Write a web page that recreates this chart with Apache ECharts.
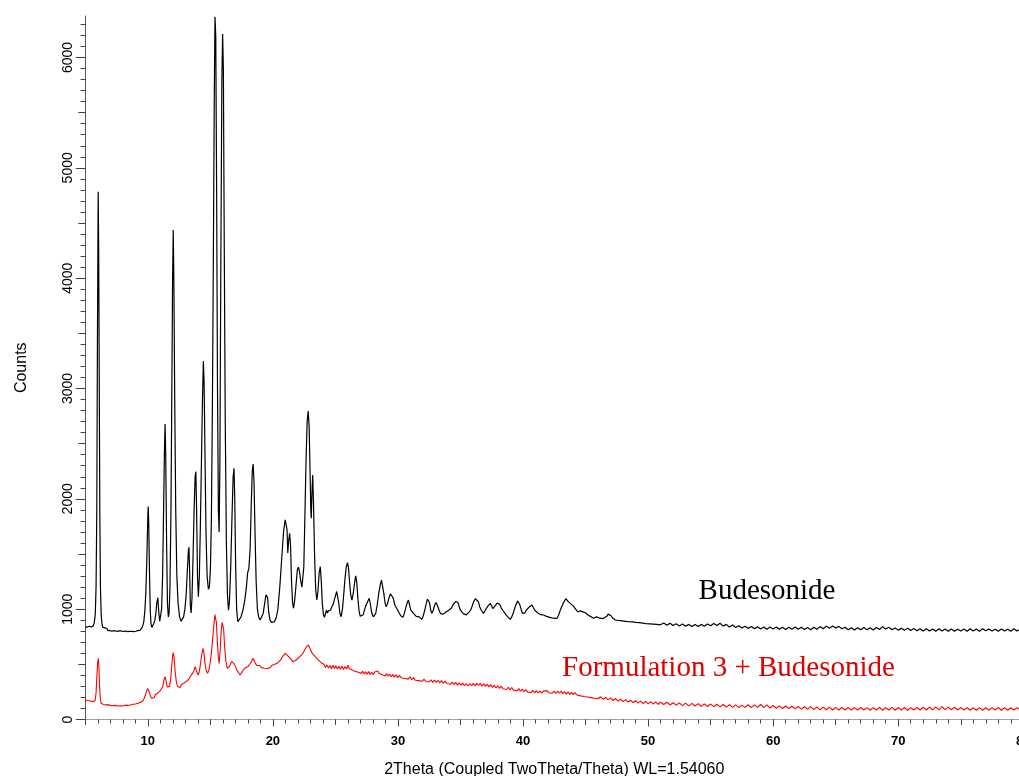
<!DOCTYPE html>
<html>
<head>
<meta charset="utf-8">
<script src="https://cdn.jsdelivr.net/npm/echarts@6/dist/echarts.min.js"></script>
<style>
html,body{margin:0;padding:0;background:#fff;}
#chart{width:1019px;height:776px;}
</style>
</head>
<body>
<div id="chart"></div>
<script>
// ---------------- data: [2Theta, Counts] ----------------
var budesonidePoints = [
[5.00,835],[5.08,826],[5.16,840],[5.24,830],[5.32,845],[5.40,828],[5.48,838],[5.56,832],[5.64,850],[5.72,880],[5.80,960],[5.86,1200],[5.92,1900],[5.97,3440],[6.03,4784],[6.07,4250],[6.11,3200],[6.16,1900],[6.21,1200],[6.27,950],[6.33,870],[6.40,835],[6.48,818],[6.56,830],[6.64,812],[6.72,825],[6.80,806],[6.88,820],[6.96,808],[7.04,818],
[7.12,800],[7.20,815],[7.28,805],[7.36,822],[7.44,802],[7.52,812],[7.60,798],[7.68,815],[7.76,805],[7.84,818],[7.92,800],[8.00,812],[8.08,798],[8.16,810],[8.24,802],[8.32,815],[8.40,796],[8.48,810],[8.56,800],[8.64,812],[8.72,798],[8.80,808],[8.88,796],[8.96,812],[9.04,800],[9.12,815],[9.20,805],[9.28,818],[9.36,808],[9.44,822],
[9.52,830],[9.60,850],[9.68,890],[9.76,980],[9.84,1150],[9.92,1450],[10.00,1850],[10.03,1930],[10.07,1780],[10.13,1350],[10.19,1000],[10.25,870],[10.32,835],[10.40,850],[10.48,870],[10.56,900],[10.64,960],[10.72,1060],[10.80,1104],[10.87,980],[10.95,890],[11.02,900],[11.10,1000],[11.18,1300],[11.26,1900],[11.33,2450],[11.38,2678],[11.43,2400],[11.50,1600],[11.57,1050],
[11.64,930],[11.70,960],[11.77,1200],[11.85,1900],[11.92,3000],[11.98,4000],[12.03,4437],[12.08,4000],[12.15,2900],[12.23,1900],[12.32,1300],[12.42,1050],[12.54,930],[12.66,890],[12.76,895],[12.86,930],[12.96,1000],[13.06,1120],[13.16,1350],[13.24,1530],[13.29,1561],[13.34,1350],[13.40,1030],[13.46,965],[13.53,1100],[13.61,1450],[13.70,1900],[13.78,2200],[13.84,2246],[13.90,1900],
[13.97,1300],[14.04,1113],[14.12,1300],[14.20,1750],[14.28,2300],[14.36,2850],[14.44,3250],[14.50,3050],[14.57,2400],[14.65,1700],[14.74,1300],[14.84,1180],[14.92,1200],[15.00,1350],[15.08,1800],[15.16,2800],[15.24,4200],[15.31,5600],[15.37,6370],[15.43,6200],[15.50,4800],[15.57,3000],[15.64,1900],[15.70,1700],[15.76,2300],[15.84,4200],[15.92,5800],[15.98,6213],[16.04,5900],[16.11,4300],
[16.19,2700],[16.28,1600],[16.37,1120],[16.45,990],[16.53,1080],[16.62,1350],[16.72,1800],[16.82,2200],[16.89,2277],[16.95,2000],[17.02,1400],[17.10,1000],[17.19,886],[17.30,895],[17.45,930],[17.60,990],[17.75,1080],[17.88,1200],[17.98,1330],[18.08,1370],[18.18,1550],[18.27,1950],[18.35,2250],[18.42,2316],[18.49,2150],[18.57,1700],[18.66,1250],[18.76,1000],[18.86,930],[18.98,902],
[19.10,915],[19.22,960],[19.34,1050],[19.44,1130],[19.50,1144],[19.57,1110],[19.66,980],[19.76,905],[19.88,880],[20.00,877],[20.12,885],[20.26,920],[20.40,1000],[20.55,1200],[20.70,1450],[20.85,1700],[20.98,1810],[21.06,1824],[21.13,1720],[21.19,1509],[21.26,1620],[21.34,1688],[21.41,1580],[21.49,1250],[21.57,1060],[21.65,1008],[21.74,1080],[21.85,1220],[21.96,1360],[22.04,1380],
[22.13,1340],[22.22,1260],[22.32,1200],[22.39,1189],[22.47,1380],[22.56,1850],[22.65,2350],[22.74,2700],[22.82,2796],[22.90,2650],[22.97,2250],[23.03,1900],[23.07,1824],[23.12,2050],[23.18,2216],[23.25,1950],[23.33,1500],[23.42,1180],[23.51,1083],[23.60,1160],[23.70,1330],[23.79,1385],[23.87,1250],[23.95,1050],[24.04,950],[24.12,926],[24.20,960],[24.28,990],[24.36,965],[24.44,985],
[24.52,1000],[24.60,990],[24.70,1020],[24.80,1040],[24.90,1080],[25.00,1120],[25.10,1160],[25.18,1165],[25.26,1060],[25.36,960],[25.46,932],[25.56,1000],[25.66,1130],[25.76,1270],[25.86,1380],[25.96,1421],[26.04,1380],[26.12,1260],[26.22,1130],[26.32,1083],[26.42,1140],[26.52,1230],[26.62,1301],[26.70,1250],[26.78,1120],[26.88,990],[26.98,935],[27.11,917],[27.22,950],[27.34,1000],
[27.46,1040],[27.58,1070],[27.70,1099],[27.80,1040],[27.90,970],[28.02,930],[28.12,917],[28.22,960],[28.34,1040],[28.46,1140],[28.58,1220],[28.68,1264],[28.76,1250],[28.86,1150],[28.96,1060],[29.06,1022],[29.16,1050],[29.28,1100],[29.40,1140],[29.52,1153],[29.62,1100],[29.74,1040],[29.86,1022],[29.98,990],[30.10,965],[30.22,940],[30.32,935],[30.40,926],[30.50,960],[30.62,1010],
[30.74,1060],[30.84,1083],[30.94,1030],[31.04,990],[31.14,975],[31.24,962],[31.34,945],[31.46,935],[31.58,925],[31.70,930],[31.80,915],[31.91,908],[32.02,940],[32.14,990],[32.26,1050],[32.36,1090],[32.44,1108],[32.52,1060],[32.62,990],[32.71,962],[32.82,990],[32.94,1040],[33.04,1060],[33.11,1068],[33.20,1020],[33.30,985],[33.40,960],[33.51,947],[33.62,955],[33.72,970],
[33.84,975],[33.96,993],[34.06,990],[34.18,1000],[34.28,1010],[34.40,1040],[34.52,1055],[34.62,1070],[34.71,1083],[34.80,1060],[34.90,1020],[34.98,993],[35.10,975],[35.22,960],[35.34,955],[35.46,948],[35.58,960],[35.70,975],[35.82,995],[35.94,1030],[36.06,1070],[36.18,1095],[36.31,1113],[36.42,1070],[36.54,1020],[36.66,990],[36.76,975],[36.84,962],[36.96,985],[37.08,1010],
[37.20,1030],[37.30,1045],[37.38,1053],[37.48,1030],[37.58,1005],[37.68,1010],[37.80,1035],[37.92,1055],[38.04,1068],[38.14,1045],[38.26,1010],[38.38,990],[38.50,970],[38.62,955],[38.74,935],[38.86,920],[38.98,908],[39.10,930],[39.22,965],[39.34,1010],[39.46,1050],[39.56,1075],[39.64,1083],[39.74,1040],[39.84,1000],[39.94,965],[40.04,947],[40.14,965],[40.26,990],[40.38,1005],
[40.50,1020],[40.60,1030],[40.71,1038],[40.82,1015],[40.94,990],[41.06,975],[41.18,965],[41.30,955],[41.42,950],[41.54,952],[41.64,947],[41.76,940],[41.88,935],[42.00,930],[42.14,925],[42.28,920],[42.42,918],[42.56,915],[42.71,917],[42.84,945],[42.96,985],[43.08,1020],[43.20,1050],[43.32,1075],[43.42,1095],[43.50,1099],[43.60,1070],[43.70,1055],[43.80,1050],[43.91,1038],
[44.02,1030],[44.14,1010],[44.26,995],[44.38,975],[44.44,962],[44.56,985],[44.68,990],[44.80,975],[44.92,970],[44.98,968],[45.10,955],[45.22,945],[45.34,940],[45.46,930],[45.56,925],[45.64,917],[45.76,925],[45.88,930],[46.00,925],[46.14,918],[46.28,922],[46.42,915],[46.56,920],[46.70,935],[46.80,955],[46.92,962],[47.04,940],[47.16,920],[47.28,910],[47.38,902],
[47.50,915],[47.64,898],[47.78,916],[47.92,894],[48.06,912],[48.20,890],[48.31,905],[48.46,886],[48.60,902],[48.74,884],[48.88,898],[49.02,880],[49.16,896],[49.30,878],[49.44,892],[49.58,874],[49.72,890],[49.86,868],[50.00,886],[50.14,866],[50.28,884],[50.42,864],[50.56,880],[50.70,862],[50.84,878],[50.98,858],[51.25,874],[51.50,854],[51.75,872],[52.00,852],
[52.25,868],[52.50,848],[52.75,866],[53.00,846],[53.25,862],[53.50,842],[53.75,860],[54.00,842],[54.25,862],[54.50,846],[54.75,866],[55.00,850],[55.25,870],[55.50,852],[55.75,872],[56.00,846],[56.25,862],[56.50,838],[56.75,856],[57.00,834],[57.25,850],[57.50,830],[57.75,846],[58.00,826],[58.25,842],[58.50,822],[58.75,840],[59.00,820],[59.25,838],[59.50,818],
[59.75,838],[60.00,820],[60.25,838],[60.50,818],[60.75,836],[61.00,816],[61.25,836],[61.50,818],[61.75,838],[62.00,818],[62.25,836],[62.50,816],[62.75,834],[63.00,814],[63.25,836],[63.50,818],[63.75,842],[64.00,822],[64.25,846],[64.50,826],[64.75,848],[65.00,830],[65.25,844],[65.50,822],[65.75,836],[66.00,814],[66.25,832],[66.50,812],[66.75,832],[67.00,814],
[67.25,834],[67.50,814],[67.75,832],[68.00,812],[68.25,834],[68.50,816],[68.75,842],[69.00,820],[69.25,836],[69.50,814],[69.75,830],[70.00,810],[70.25,828],[70.50,808],[70.75,826],[71.00,806],[71.25,824],[71.50,804],[71.75,822],[72.00,802],[72.25,822],[72.50,802],[72.75,820],[73.00,800],[73.25,822],[73.50,802],[73.75,820],[74.00,800],[74.25,820],[74.50,800],
[74.75,818],[75.00,802],[75.25,820],[75.50,800],[75.75,822],[76.00,802],[76.25,820],[76.50,800],[76.75,822],[77.00,804],[77.25,820],[77.50,802],[77.75,818],[78.00,800],[78.25,820],[78.50,802],[78.75,818],[79.00,800],[79.25,822],[79.50,802],[79.75,818],[80.00,806]
];
var formulationPoints = [
[5.00,177],[5.10,160],[5.20,172],[5.30,155],[5.40,168],[5.50,150],[5.60,162],[5.70,152],[5.78,170],[5.86,240],[5.93,400],[5.99,520],[6.04,555],[6.09,470],[6.14,300],[6.20,190],[6.26,147],[6.34,160],[6.42,138],[6.50,150],[6.60,132],[6.70,148],[6.80,135],[6.90,150],[7.00,128],[7.10,142],[7.20,125],[7.30,140],[7.40,128],[7.50,138],
[7.60,122],[7.70,138],[7.80,125],[7.90,135],[8.00,122],[8.10,140],[8.20,130],[8.30,145],[8.40,128],[8.50,140],[8.60,132],[8.70,150],[8.80,138],[8.90,152],[9.00,140],[9.10,158],[9.20,148],[9.30,165],[9.40,155],[9.50,170],[9.60,168],[9.70,190],[9.80,220],[9.90,258],[10.00,280],[10.05,283],[10.12,250],[10.20,215],[10.30,192],[10.40,210],
[10.50,198],[10.60,225],[10.70,215],[10.80,240],[10.90,232],[11.00,262],[11.10,267],[11.20,300],[11.30,365],[11.38,388],[11.46,350],[11.55,295],[11.64,283],[11.74,300],[11.84,380],[11.92,500],[11.98,580],[12.04,605],[12.10,560],[12.18,440],[12.28,340],[12.38,300],[12.48,310],[12.58,290],[12.68,318],[12.78,305],[12.88,330],[12.98,318],[13.08,345],[13.18,330],
[13.28,365],[13.38,388],[13.48,375],[13.58,420],[13.68,440],[13.78,479],[13.86,465],[13.94,425],[14.04,403],[14.14,450],[14.24,530],[14.34,610],[14.42,645],[14.50,590],[14.58,500],[14.68,440],[14.78,419],[14.88,450],[14.98,510],[15.08,600],[15.18,720],[15.28,860],[15.36,950],[15.42,968],[15.48,880],[15.56,700],[15.64,560],[15.70,509],[15.78,620],[15.86,790],
[15.94,880],[15.99,896],[16.06,820],[16.14,660],[16.24,530],[16.34,465],[16.42,449],[16.52,480],[16.62,505],[16.72,525],[16.84,539],[16.94,500],[17.04,470],[17.14,445],[17.26,430],[17.38,403],[17.50,425],[17.60,445],[17.70,430],[17.80,470],[17.90,455],[18.00,479],[18.10,490],[18.20,510],[18.30,530],[18.40,555],[18.48,540],[18.58,515],[18.70,490],[18.84,473],
[18.96,490],[19.08,470],[19.20,488],[19.32,465],[19.44,480],[19.56,462],[19.66,478],[19.78,470],[19.90,490],[20.02,478],[20.14,500],[20.26,488],[20.38,512],[20.50,505],[20.62,540],[20.74,565],[20.86,580],[20.98,600],[21.10,605],[21.22,575],[21.34,560],[21.46,545],[21.58,525],[21.70,515],[21.82,535],[21.94,530],[22.06,560],[22.18,575],[22.30,585],[22.42,605],
[22.54,630],[22.66,655],[22.76,670],[22.84,675],[22.92,655],[23.02,640],[23.14,600],[23.26,585],[23.38,569],[23.50,555],[23.62,540],[23.74,530],[23.86,515],[23.98,505],
[24.10,498],[24.20,472],[24.32,495],[24.44,466],[24.56,490],[24.68,460],[24.80,492],[24.92,462],[25.04,486],[25.16,458],[25.28,482],[25.40,455],[25.52,485],[25.64,452],[25.76,480],[25.88,458],[26.00,492],[26.10,462],[26.22,470],[26.34,448],[26.46,458],[26.58,436],[26.70,452],[26.82,428],[26.94,440],[27.06,418],[27.18,438],[27.30,412],[27.42,432],[27.54,410],
[27.66,435],[27.78,408],[27.90,428],[28.02,405],[28.14,430],[28.26,412],[28.38,440],[28.50,418],[28.62,430],[28.74,405],[28.86,420],[28.98,395],[29.10,416],[29.22,392],[29.34,412],[29.46,388],[29.58,408],[29.70,384],[29.84,404],[29.98,380],[30.12,400],[30.26,378],[30.40,396],[30.54,372],[30.68,390],[30.82,366],[30.96,386],[31.10,360],[31.24,380],[31.38,356],
[31.52,374],[31.66,352],[31.80,370],[31.94,346],[32.08,366],[32.22,344],[32.36,362],[32.50,340],[32.64,360],[32.78,336],[32.92,358],[33.06,336],[33.20,356],[33.34,332],[33.48,352],[33.62,328],[33.76,348],[33.91,326],[34.06,344],[34.20,320],[34.34,340],[34.48,316],[34.62,336],[34.76,312],[34.90,332],[35.04,310],[35.18,330],[35.32,306],[35.46,326],[35.60,304],
[35.74,326],[35.88,306],[36.02,328],[36.16,304],[36.30,330],[36.44,308],[36.58,328],[36.72,302],[36.86,324],[37.00,300],[37.14,320],[37.28,296],[37.42,316],[37.56,290],[37.70,310],[37.84,286],[37.98,306],[38.12,282],[38.26,302],[38.40,278],[38.54,296],[38.68,272],[38.82,292],[38.96,268],[39.10,290],[39.24,266],[39.38,284],[39.52,260],[39.66,280],[39.80,256],
[39.94,276],[40.08,252],[40.22,272],[40.36,248],[40.50,266],[40.64,244],[40.78,264],[40.92,242],[41.06,262],[41.20,240],[41.34,260],[41.48,238],[41.62,258],[41.76,240],[41.91,262],[42.06,242],[42.20,260],[42.34,238],[42.48,258],[42.62,236],[42.76,258],[42.90,238],[43.04,258],[43.18,234],[43.32,254],[43.46,230],[43.60,250],[43.74,226],[43.88,246],[44.02,224],
[44.16,244],[44.31,222],[44.46,238],[44.60,214],[44.74,232],[44.88,208],[45.02,226],[45.16,204],[45.30,220],[45.44,198],[45.58,214],[45.72,192],[45.86,210],[46.00,188],[46.20,206],[46.40,184],[46.60,200],[46.80,178],[47.00,196],[47.20,172],[47.40,190],[47.60,166],[47.80,184],[48.00,162],[48.20,180],[48.40,158],[48.60,174],[48.80,152],[49.00,170],[49.20,148],
[49.40,166],[49.60,144],[49.80,164],[50.00,142],[50.20,162],[50.40,140],[50.60,160],[50.80,138],[51.00,158],[51.25,136],[51.50,156],[51.75,132],[52.00,152],[52.25,130],[52.50,150],[52.75,126],[53.00,148],[53.25,124],[53.50,146],[53.75,122],[54.00,144],[54.25,120],[54.50,142],[54.75,118],[55.00,140],[55.25,116],[55.50,138],[55.75,114],[56.00,136],[56.25,112],
[56.50,134],[56.75,110],[57.00,132],[57.25,108],[57.50,130],[57.75,110],[58.00,134],[58.25,108],[58.50,132],[58.75,110],[59.00,136],[59.25,108],[59.50,132],[59.75,104],[60.00,128],[60.25,102],[60.50,124],[60.75,100],[61.00,122],[61.25,98],[61.50,120],[61.75,96],[62.00,118],[62.25,94],[62.50,116],[62.75,92],[63.00,116],[63.25,90],[63.50,114],[63.75,88],
[64.00,112],[64.25,88],[64.50,112],[64.75,86],[65.00,110],[65.25,86],[65.50,110],[65.75,86],[66.00,110],[66.25,86],[66.50,108],[66.75,86],[67.00,110],[67.25,86],[67.50,108],[67.75,84],[68.00,108],[68.25,86],[68.50,110],[68.75,84],[69.00,108],[69.25,86],[69.50,110],[69.75,84],[70.00,110],[70.25,86],[70.50,110],[70.75,84],[71.00,108],[71.25,86],
[71.50,110],[71.75,86],[72.00,112],[72.25,86],[72.50,112],[72.75,88],[73.00,114],[73.25,88],[73.50,116],[73.75,90],[74.00,112],[74.25,88],[74.50,112],[74.75,86],[75.00,110],[75.25,86],[75.50,108],[75.75,84],[76.00,108],[76.25,84],[76.50,108],[76.75,84],[77.00,106],[77.25,84],[77.50,108],[77.75,86],[78.00,110],[78.25,84],[78.50,108],[78.75,84],
[79.00,106],[79.25,86],[79.50,108],[79.75,86],[80.00,104]
];
var xTickLabels = [10,20,30,40,50,60,70,80];
var yTickLabels = [0,1000,2000,3000,4000,5000,6000];

// ---------------- layout ----------------
var L = 85.3, R = -4.3, B = 56.5, T = 16;
var pxPerCount = 0.110333;     // vertical scale (px per count)
var pxPerDeg = 12.5;           // horizontal scale (px per degree)
var yMax = (776 - B - T) / pxPerCount;
function topFor(v){ return 776 - B - v * pxPerCount; }
function grid(left, top){ return {left:left, right:R, top:top, bottom:B, containLabel:false, outerBoundsMode:'none'}; }

var tickColor = '#444';
var hiddenX = function(g, mn){ return {gridIndex:g, type:'value', min:mn, max:80, show:false}; };
var hiddenY = function(g, mx){ return {gridIndex:g, type:'value', min:0, max:mx, show:false}; };
var labelFont = 'Liberation Sans, Arial, sans-serif';

var option = {
  animation: false,
  backgroundColor: '#fff',
  grid: [
    grid(L, T),                    // 0 data
    grid(L, topFor(6000)),         // 1 y major + labels
    grid(L, topFor(6000)),         // 2 y medium ticks
    grid(L, topFor(6300)),         // 3 y minor ticks
    grid(L + 5*pxPerDeg, T),       // 4 x major + labels
    grid(L, T),                    // 5 x medium ticks
    grid(L, T)                     // 6 x minor ticks
  ],
  xAxis: [
    {gridIndex:0, type:'value', min:5, max:80,
      axisLine:{show:true, onZero:false, lineStyle:{color:'#a0a0a0', width:1}},
      axisTick:{show:false}, axisLabel:{show:false}, splitLine:{show:false},
      name:'2Theta (Coupled TwoTheta/Theta) WL=1.54060', nameLocation:'middle', nameGap:42,
      nameTextStyle:{fontFamily:labelFont, fontSize:16, color:'#000'}},
    hiddenX(1,5), hiddenX(2,5), hiddenX(3,5),
    {gridIndex:4, type:'value', min:10, max:80, interval:10,
      axisLine:{show:false}, splitLine:{show:false},
      axisTick:{show:true, length:7, lineStyle:{color:tickColor}},
      axisLabel:{show:true, margin:15, fontFamily:labelFont, fontSize:13, fontWeight:'bold', color:'#000',
        hideOverlap:false, showMinLabel:true, showMaxLabel:true,
        formatter:function(v){ return xTickLabels.indexOf(v) >= 0 ? String(v) : ''; }}},
    {gridIndex:5, type:'value', min:5, max:80, interval:5,
      axisLine:{show:false}, splitLine:{show:false}, axisLabel:{show:false},
      axisTick:{show:true, length:5.5, lineStyle:{color:tickColor}}},
    {gridIndex:6, type:'value', min:5, max:80, interval:1,
      axisLine:{show:false}, splitLine:{show:false}, axisLabel:{show:false},
      axisTick:{show:true, length:4, lineStyle:{color:tickColor}}}
  ],
  yAxis: [
    {gridIndex:0, type:'value', min:0, max:yMax,
      axisLine:{show:true, onZero:false, lineStyle:{color:'#555', width:1}},
      axisTick:{show:false}, axisLabel:{show:false}, splitLine:{show:false},
      name:'Counts', nameLocation:'middle', nameGap:56, nameRotate:90,
      nameTextStyle:{fontFamily:labelFont, fontSize:16, color:'#000'}},
    {gridIndex:1, type:'value', min:0, max:6000, interval:1000,
      axisLine:{show:false}, splitLine:{show:false},
      axisTick:{show:true, length:9.5, lineStyle:{color:tickColor}},
      axisLabel:{show:true, rotate:90, margin:10, fontFamily:labelFont, fontSize:14, color:'#000',
        formatter:function(v){ return yTickLabels.indexOf(v) >= 0 ? String(v) : ''; }}},
    {gridIndex:2, type:'value', min:0, max:6000, interval:500,
      axisLine:{show:false}, splitLine:{show:false}, axisLabel:{show:false},
      axisTick:{show:true, length:7, lineStyle:{color:tickColor}}},
    {gridIndex:3, type:'value', min:0, max:6300, interval:100,
      axisLine:{show:false}, splitLine:{show:false}, axisLabel:{show:false},
      axisTick:{show:true, length:4.7, lineStyle:{color:tickColor}}},
    hiddenY(4,6000), hiddenY(5,6000), hiddenY(6,6000)
  ],
  series: [
    {name:'Budesonide', type:'line', xAxisIndex:0, yAxisIndex:0, data:budesonidePoints,
      showSymbol:false, symbol:'none', smooth:false, sampling:null, lineStyle:{color:'#000', width:1.2}, silent:true, z:3},
    {name:'Formulation 3 + Budesonide', type:'line', xAxisIndex:0, yAxisIndex:0, data:formulationPoints,
      showSymbol:false, symbol:'none', smooth:false, sampling:null, lineStyle:{color:'#ff0000', width:1.1}, silent:true, z:2}
  ],
  graphic: [
    {type:'text', x:767, y:591, silent:true,
      style:{text:'Budesonide', fill:'#000', font:'29px "Liberation Serif", serif', align:'center', verticalAlign:'middle'}},
    {type:'text', x:728.5, y:668, silent:true,
      style:{text:'Formulation 3 + Budesonide', fill:'#e00000', font:'29px "Liberation Serif", serif', align:'center', verticalAlign:'middle'}}
  ]
};

var chart = echarts.init(document.getElementById('chart'), null, {renderer:'canvas'});
chart.setOption(option);
</script>
</body>
</html>
